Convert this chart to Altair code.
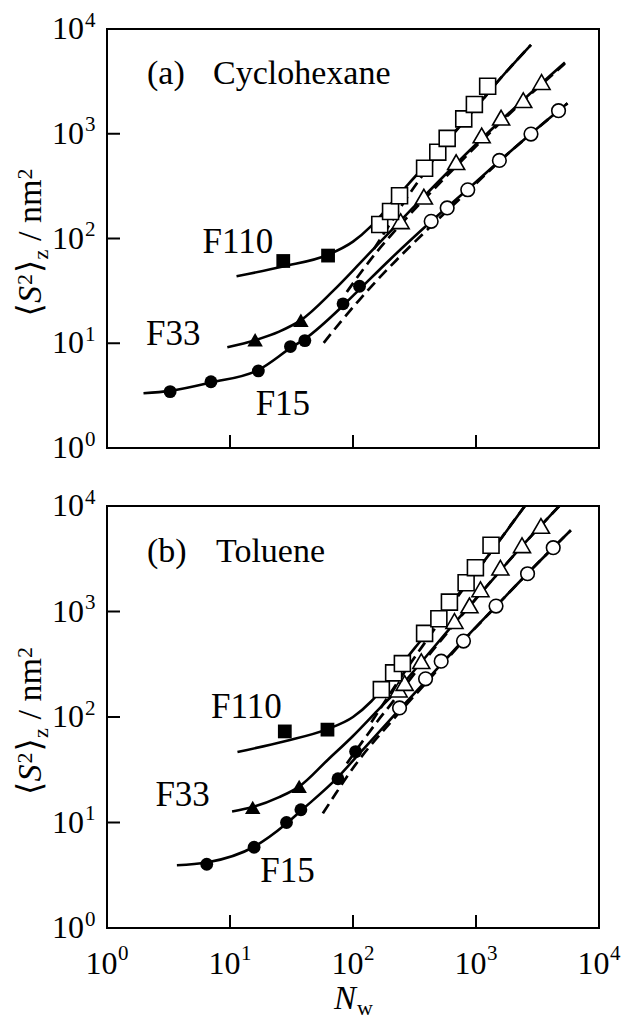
import altair as alt
import pandas as pd

FONT = "Liberation Serif, DejaVu Serif"

# ---------------- panel (a): cyclohexane ----------------
a_F15_filled_N = [3.26, 7.0, 17.0, 31.0, 40.6, 83.0, 113.0]
a_F15_filled_S = [3.45, 4.29, 5.44, 9.3, 10.6, 23.8, 35.0]
a_F15_open_N = [432, 583, 857, 1549, 2799, 4688]
a_F15_open_S = [146, 196, 292, 556, 993, 1660]
a_F33_filled_N = [16.0, 37.7]
a_F33_filled_S = [10.8, 16.6]
a_F33_open_N = [244, 377, 690, 1112, 1600, 2422, 3411]
a_F33_open_S = [146, 251, 536, 964, 1425, 2093, 3114]
a_F110_filled_N = [27.1, 62.7]
a_F110_filled_S = [61.0, 68.7]
a_F110_open_N = [165, 202, 239, 382, 489, 583, 795, 970, 1244]
a_F110_open_S = [136, 181, 256, 468, 667, 903, 1387, 1905, 2838]

# solid (theory) curves
a_F15_fit_N = [1.98, 3.26, 7.01, 17.0, 31.6, 40.6, 83.0, 113, 200, 433, 857, 1549, 2799, 5546]
a_F15_fit_S = [3.33, 3.51, 4.22, 5.56, 9.12, 11.0, 22.9, 32.7, 63.1, 146, 295, 550, 1000, 1950]
a_F33_fit_N = [9.51, 16.0, 25.1, 37.7, 68.9, 113, 158, 244, 398, 1000, 2512, 5284]
a_F33_fit_S = [9.16, 10.7, 12.9, 16.6, 31.6, 57.5, 87.1, 148, 269, 794, 2188, 4786]
a_F110_fit_N = [11.3, 27.0, 62.7, 100, 141, 200, 282, 501, 1000, 1585, 2799]
a_F110_fit_S = [43.6, 54.1, 70.0, 93.3, 132, 209, 331, 692, 1778, 3388, 7063]
# dashed curves
a_F15_dash_N = [57.8, 79.4, 112, 158, 224, 316, 433, 857, 1549, 2799, 5546]
a_F15_dash_S = [10.1, 16.0, 25.7, 40.3, 61.7, 92.3, 132, 282, 543, 1000, 1950]
a_F33_dash_N = [89.1, 120, 158, 200, 282, 398, 1000, 2512, 5284]
a_F33_dash_S = [30.9, 50.1, 75.9, 105, 164, 251, 758, 2138, 4677]
a_F110_dash_N = [148, 200, 282, 398, 501, 1000, 1585, 2799]
a_F110_dash_S = [79.4, 138, 257, 457, 676, 1778, 3388, 7063]

# ---------------- panel (b): toluene ----------------
b_F15_filled_N = [6.47, 15.7, 28.8, 37.7, 75.5, 105]
b_F15_filled_S = [4.02, 5.83, 10.0, 13.2, 26.0, 47.0]
b_F15_open_N = [239, 389, 521, 791, 1455, 2625, 4245]
b_F15_open_S = [122, 230, 338, 524, 1125, 2280, 4030]
b_F33_filled_N = [15.3, 36.5]
b_F33_filled_S = [13.9, 22.0]
b_F33_open_N = [235, 263, 359, 668, 885, 1087, 1578, 2366, 3373]
b_F33_open_S = [182, 210, 338, 811, 1143, 1622, 2602, 4246, 6470]
b_F110_filled_N = [27.9, 62.0]
b_F110_filled_S = [73.0, 75.9]
b_F110_open_N = [170, 214, 252, 382, 499, 608, 831, 989, 1325]
b_F110_open_S = [182, 262, 321, 620, 853, 1227, 1875, 2602, 4246]

b_F15_fit_N = [3.70, 6.47, 15.7, 28.8, 37.7, 75.5, 112, 239, 398, 794, 1455, 2624, 5902]
b_F15_fit_S = [3.93, 4.17, 5.89, 9.77, 12.9, 26.9, 44.7, 118, 224, 537, 1122, 2291, 5888]
b_F33_fit_N = [10.4, 15.3, 25.1, 36.5, 63.1, 100, 158, 235, 359, 668, 1086, 2366, 4753]
b_F33_fit_S = [12.7, 14.0, 17.4, 21.9, 39.8, 66.1, 115, 186, 331, 776, 1479, 4169, 10000]
b_F110_fit_N = [11.5, 27.9, 61.9, 100, 141, 200, 316, 631, 1259, 2495]
b_F110_fit_S = [46.6, 58.9, 76.7, 100, 141, 229, 447, 1202, 3388, 10000]
b_F15_dash_N = [56.9, 72.4, 91.2, 126, 178, 239, 398, 794, 1455, 2624, 5902]
b_F15_dash_S = [12.2, 18.8, 28.2, 46.8, 75.0, 111, 214, 531, 1122, 2291, 5888]
b_F33_dash_N = [89.1, 118, 158, 200, 263, 359, 668, 1086, 2366, 4753]
b_F33_dash_S = [36.3, 57.5, 91.2, 129, 195, 313, 759, 1479, 4169, 10000]
b_F110_dash_N = [141, 200, 282, 398, 631, 1259, 2495]
b_F110_dash_S = [89.1, 166, 302, 537, 1148, 3388, 10000]

# sample labels (anchor in data coordinates)
SAMPLES = ["F15", "F33", "F110"]
a_label_N = [26.9, 3.45, 11.6]
a_label_S = [2.63, 12.2, 91.7]
b_label_N = [29.3, 4.12, 13.6]
b_label_S = [3.5, 18.3, 124]

# axis ticks / tick labels
TICK_VALUES = [1, 10, 100, 1000, 10000]
TICK_BASE = ["10", "10", "10", "10", "10"]
TICK_EXP = ["0", "1", "2", "3", "4"]
INNER_TICKS = [10, 100, 1000]

W = 492
HA = 419
HB = 422

xs = alt.Scale(type="log", domain=[1, 10000], nice=False)
ys = alt.Scale(type="log", domain=[1, 10000], nice=False)

SYM = {"F15": ("circle", 165, 185), "F33": ("triangle-up", 240, 290), "F110": ("square", 190, 255)}


def df_of(N, S, **kw):
    d = pd.DataFrame({"N": N, "S": S})
    for k, v in kw.items():
        d[k] = v
    return d


def make_panel(d, H, letter, solvent, letter_dx, solvent_dx, text_base, show_x):
    X = alt.X("N:Q", scale=xs, axis=None)
    Y = alt.Y("S:Q", scale=ys, axis=None)
    layers = []
    fit = pd.concat([df_of(*d["fit"][s], curve=s) for s in SAMPLES])
    layers.append(alt.Chart(fit).mark_line(color="black", strokeWidth=2.6, interpolate="monotone",
                                           clip=True).encode(x=X, y=Y, detail="curve:N"))
    dash = pd.concat([df_of(*d["dash"][s], curve=s) for s in SAMPLES])
    layers.append(alt.Chart(dash).mark_line(color="black", strokeWidth=2.7, strokeDash=[11, 6],
                                            interpolate="monotone", clip=True).encode(x=X, y=Y, detail="curve:N"))
    for s in SAMPLES:
        shape, fsize, osize = SYM[s]
        layers.append(alt.Chart(df_of(*d["filled"][s])).mark_point(
            shape=shape, size=fsize, filled=True, color="black", opacity=1, clip=True).encode(x=X, y=Y))
        layers.append(alt.Chart(df_of(*d["open"][s])).mark_point(
            shape=shape, size=osize, filled=True, fill="white", stroke="black", strokeWidth=1.6,
            opacity=1, clip=True).encode(x=X, y=Y))
    # sample labels
    lab = pd.DataFrame({"N": d["labN"], "S": d["labS"], "t": SAMPLES})
    layers.append(alt.Chart(lab).mark_text(font=FONT, fontSize=35, align="center", baseline="middle",
                                           color="black").encode(x=X, y=Y, text="t:N"))
    # inward ticks
    tk = pd.DataFrame({"t": INNER_TICKS})
    layers.append(alt.Chart(tk).mark_rule(color="black", strokeWidth=2).encode(
        y=alt.Y("t:Q", scale=ys, axis=None), x=alt.value(0), x2=alt.value(13)))
    layers.append(alt.Chart(tk).mark_rule(color="black", strokeWidth=2).encode(
        x=alt.X("t:Q", scale=xs, axis=None), y=alt.value(H), y2=alt.value(H - 13)))
    # y tick labels
    tl = pd.DataFrame({"t": TICK_VALUES, "base": TICK_BASE, "exp": TICK_EXP})
    layers.append(alt.Chart(tl).mark_text(font=FONT, fontSize=32, align="right", baseline="middle",
                                          dx=-23).encode(y=alt.Y("t:Q", scale=ys, axis=None),
                                                         x=alt.value(0), text="base:N"))
    layers.append(alt.Chart(tl).mark_text(font=FONT, fontSize=21, align="left", baseline="middle",
                                          dx=-22, dy=-8.5).encode(y=alt.Y("t:Q", scale=ys, axis=None),
                                                                  x=alt.value(0), text="exp:N"))
    if show_x:
        layers.append(alt.Chart(tl).mark_text(font=FONT, fontSize=32, align="right", baseline="alphabetic",
                                              dx=10.5).encode(x=alt.X("t:Q", scale=xs, axis=None),
                                                              y=alt.value(H + 46), text="base:N"))
        layers.append(alt.Chart(tl).mark_text(font=FONT, fontSize=21, align="left", baseline="alphabetic",
                                              dx=11).encode(x=alt.X("t:Q", scale=xs, axis=None),
                                                            y=alt.value(H + 32), text="exp:N"))
        xt = [("N", "italic", 33, 227, H + 81), ("w", "normal", 22, 250, H + 87)]
        for txt, st, fs, px, py in xt:
            layers.append(alt.Chart(pd.DataFrame({"t": [txt]})).mark_text(
                font=FONT, fontSize=fs, fontStyle=st, align="left", baseline="alphabetic").encode(
                x=alt.value(px), y=alt.value(py), text="t:N"))
    # panel caption
    for txt, px in [(letter, letter_dx), (solvent, solvent_dx)]:
        layers.append(alt.Chart(pd.DataFrame({"t": [txt]})).mark_text(
            font=FONT, fontSize=34, align="left", baseline="alphabetic").encode(
            x=alt.value(px), y=alt.value(text_base), text="t:N"))
    # y title: <S^2>_z / nm^2 (rotated)
    pieces = [("⟨", "normal", 34, 0, 0), ("S", "italic", 34, 13.5, 0), ("2", "normal", 22, 31.5, -9.5),
              ("⟩", "normal", 34, 43.5, 0), ("z", "normal", 22, 57, 7), ("/ nm", "normal", 34, 75.5, 0),
              ("2", "normal", 22, 137, -9.5)]
    for txt, st, fs, off, dy in pieces:
        layers.append(alt.Chart(pd.DataFrame({"t": [txt]})).mark_text(
            font=FONT, fontSize=fs, fontStyle=st, align="left", baseline="alphabetic", angle=270,
            dx=off - 78, dy=dy).encode(x=alt.value(-66), y=alt.value(H / 2), text="t:N"))
    return alt.layer(*layers).properties(width=W, height=H)


A = dict(
    fit={"F15": (a_F15_fit_N, a_F15_fit_S), "F33": (a_F33_fit_N, a_F33_fit_S), "F110": (a_F110_fit_N, a_F110_fit_S)},
    dash={"F15": (a_F15_dash_N, a_F15_dash_S), "F33": (a_F33_dash_N, a_F33_dash_S), "F110": (a_F110_dash_N, a_F110_dash_S)},
    filled={"F15": (a_F15_filled_N, a_F15_filled_S), "F33": (a_F33_filled_N, a_F33_filled_S), "F110": (a_F110_filled_N, a_F110_filled_S)},
    open={"F15": (a_F15_open_N, a_F15_open_S), "F33": (a_F33_open_N, a_F33_open_S), "F110": (a_F110_open_N, a_F110_open_S)},
    labN=a_label_N, labS=a_label_S)
B = dict(
    fit={"F15": (b_F15_fit_N, b_F15_fit_S), "F33": (b_F33_fit_N, b_F33_fit_S), "F110": (b_F110_fit_N, b_F110_fit_S)},
    dash={"F15": (b_F15_dash_N, b_F15_dash_S), "F33": (b_F33_dash_N, b_F33_dash_S), "F110": (b_F110_dash_N, b_F110_dash_S)},
    filled={"F15": (b_F15_filled_N, b_F15_filled_S), "F33": (b_F33_filled_N, b_F33_filled_S), "F110": (b_F110_filled_N, b_F110_filled_S)},
    open={"F15": (b_F15_open_N, b_F15_open_S), "F33": (b_F33_open_N, b_F33_open_S), "F110": (b_F110_open_N, b_F110_open_S)},
    labN=b_label_N, labS=b_label_S)

pa = make_panel(A, HA, "(a)", "Cyclohexane", 40, 106, 55, False)
pb = make_panel(B, HB, "(b)", "Toluene", 40, 109, 56, True)

chart = alt.vconcat(pa, pb, spacing=58, bounds="flush").properties(
    padding={"left": 4, "top": 0, "right": 5, "bottom": 0}, background="white"
).configure_view(stroke="black", strokeWidth=2)

chart.save("out.html", embed_options={"renderer": "svg", "actions": False})
